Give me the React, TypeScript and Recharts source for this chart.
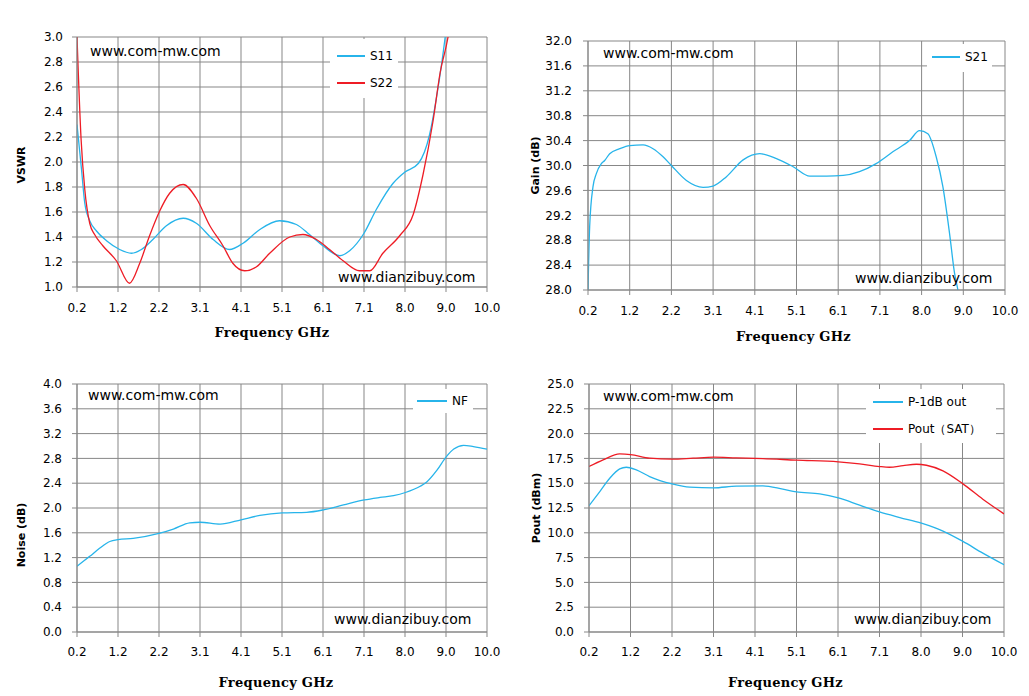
import { LineChart, Line, XAxis, YAxis, CartesianGrid } from 'recharts';

// category axis: labels are evenly spaced, data positions are given in label steps (0..10)
const freqLabels = ['0.2', '1.2', '2.2', '3.1', '4.1', '5.1', '6.1', '7.1', '8.0', '9.0', '10.0'];
const freqTicks = freqLabels.map((_, i) => i);

const vswrTicks = [1.0, 1.2, 1.4, 1.6, 1.8, 2.0, 2.2, 2.4, 2.6, 2.8, 3.0];
const gainTicks = [28.0, 28.4, 28.8, 29.2, 29.6, 30.0, 30.4, 30.8, 31.2, 31.6, 32.0];
const noiseTicks = [0.0, 0.4, 0.8, 1.2, 1.6, 2.0, 2.4, 2.8, 3.2, 3.6, 4.0];
const poutTicks = [0.0, 2.5, 5.0, 7.5, 10.0, 12.5, 15.0, 17.5, 20.0, 22.5, 25.0];

// [position, value]
const s11: [number, number][] = [
  [0, 2.3], [0.11, 1.94], [0.19, 1.67], [0.31, 1.53], [0.47, 1.45], [0.72, 1.37], [1.04, 1.3],
  [1.33, 1.27], [1.57, 1.3], [1.85, 1.38], [2.18, 1.49], [2.59, 1.55], [2.91, 1.51], [3.32, 1.38],
  [3.72, 1.3], [4.05, 1.35], [4.46, 1.46], [4.94, 1.53], [5.35, 1.5], [5.67, 1.42], [6.0, 1.33],
  [6.41, 1.25], [6.65, 1.29], [7.0, 1.43], [7.3, 1.62], [7.71, 1.83], [8.0, 1.92], [8.33, 1.99],
  [8.6, 2.22], [8.76, 2.5], [8.9, 2.8], [8.98, 3.0], [9.08, 3.3],
];
const s22: [number, number][] = [
  [0, 3.0], [0.1, 2.18], [0.19, 1.78], [0.31, 1.51], [0.43, 1.42], [0.63, 1.33], [0.96, 1.21],
  [1.28, 1.03], [1.53, 1.19], [1.77, 1.41], [2.02, 1.61], [2.26, 1.75], [2.59, 1.82], [2.91, 1.71],
  [3.24, 1.49], [3.56, 1.33], [3.8, 1.19], [4.09, 1.13], [4.37, 1.16], [4.7, 1.27], [5.19, 1.4],
  [5.51, 1.42], [5.84, 1.38], [6.16, 1.3], [6.49, 1.21], [6.89, 1.13], [7.14, 1.13], [7.46, 1.27],
  [7.87, 1.41], [8.2, 1.58], [8.44, 1.9], [8.68, 2.32], [8.86, 2.72], [9.05, 3.0], [9.2, 3.35],
];
const s21: [number, number][] = [
  [0, 28.0], [0.04, 29.02], [0.12, 29.66], [0.2, 29.87], [0.32, 30.03], [0.4, 30.08], [0.52, 30.19],
  [0.76, 30.27], [1.0, 30.32], [1.32, 30.33], [1.56, 30.27], [1.8, 30.14], [2.0, 30.0], [2.36, 29.76],
  [2.76, 29.65], [3.0, 29.67], [3.32, 29.82], [3.72, 30.09], [4.12, 30.19], [4.52, 30.11],
  [4.92, 29.98], [5.32, 29.83], [5.72, 29.83], [6.12, 29.84], [6.51, 29.9], [6.91, 30.03],
  [7.31, 30.22], [7.71, 30.4], [7.95, 30.56], [8.15, 30.51], [8.35, 30.14], [8.51, 29.66],
  [8.67, 28.91], [8.79, 28.27], [8.87, 28.0], [8.95, 27.6],
];
const nf: [number, number][] = [
  [0, 1.06], [0.31, 1.22], [0.55, 1.35], [0.8, 1.46], [1.0, 1.49], [1.37, 1.51], [2.0, 1.59],
  [2.35, 1.66], [2.75, 1.76], [3.0, 1.77], [3.49, 1.74], [4.0, 1.81], [4.46, 1.88], [5.0, 1.92],
  [5.6, 1.93], [6.01, 1.97], [6.5, 2.05], [7.01, 2.13], [7.39, 2.17], [7.72, 2.2], [8.01, 2.25],
  [8.37, 2.35], [8.53, 2.42], [8.78, 2.61], [9.0, 2.82], [9.19, 2.95], [9.43, 3.01], [9.67, 2.99],
  [10, 2.95],
];
const p1dB: [number, number][] = [
  [0, 12.72], [0.26, 14.16], [0.5, 15.5], [0.74, 16.44], [0.9, 16.61], [1.14, 16.34], [1.46, 15.67],
  [2.0, 14.93], [2.43, 14.6], [3.0, 14.53], [3.55, 14.7], [4.19, 14.73], [4.67, 14.4], [5.0, 14.13],
  [5.56, 13.93], [6.01, 13.52], [6.52, 12.79], [7.0, 12.11], [7.49, 11.54], [8.01, 10.97],
  [8.53, 10.17], [9.01, 9.13], [9.49, 7.95], [10, 6.78],
];
const psat: [number, number][] = [
  [0, 16.68], [0.34, 17.35], [0.74, 17.95], [1.0, 17.89], [1.46, 17.52], [2.0, 17.42], [2.51, 17.52],
  [3.0, 17.62], [3.55, 17.55], [4.19, 17.48], [5.0, 17.32], [6.01, 17.15], [6.52, 16.95], [7.0, 16.68],
  [7.24, 16.61], [7.57, 16.78], [7.89, 16.91], [8.13, 16.81], [8.53, 16.24], [9.01, 14.93],
  [9.49, 13.39], [10, 11.91],
];

const BLUE = '#27b4ea';
const RED = '#ee1c25';
const GRID = '#878787';

const toPoints = (arr: [number, number][]) => arr.map(([x, v]) => ({ x, v }));

const panels = [
  {
    left: 0, top: 0, width: 514, height: 348,
    margin: { top: 37, right: 27, bottom: 31, left: 0 }, yWidth: 77,
    ticks: vswrTicks, digits: 1, yTitle: 'VSWR', yTitleX: 21, yTitleDy: 3,
    xTitleOffset: 11, xTitleDx: -10, yTickMargin: 9, xTickMargin: 11,
    series: [{ name: 'S11', data: s11, color: BLUE }, { name: 'S22', data: s22, color: RED }],
    legend: { left: 330, top: 39, width: 68, height: 59, rows: [56, 83], lineX: 7, lineW: 28 },
    marks: [{ text: 'www.com-mw.com', x: 90, y: 56 }, { text: 'www.dianzibuy.com', x: 338, y: 282 }],
  },
  {
    left: 514, top: 0, width: 515, height: 348,
    margin: { top: 41, right: 24, bottom: 28, left: 0 }, yWidth: 74,
    ticks: gainTicks, digits: 1, yTitle: 'Gain (dB)', yTitleX: 21, yTitleDy: 0,
    xTitleOffset: 12, xTitleDx: -3, yTickMargin: 11, xTickMargin: 11,
    series: [{ name: 'S21', data: s21, color: BLUE }],
    legend: { left: 927, top: 44, width: 65, height: 28, rows: [57], lineX: 5, lineW: 28 },
    marks: [{ text: 'www.com-mw.com', x: 603, y: 58 }, { text: 'www.dianzibuy.com', x: 855, y: 283 }],
  },
  {
    left: 0, top: 348, width: 514, height: 348,
    margin: { top: 36, right: 27, bottom: 34, left: 0 }, yWidth: 77,
    ticks: noiseTicks, digits: 1, yTitle: 'Noise (dB)', yTitleX: 21, yTitleDy: 27,
    xTitleOffset: 16, xTitleDx: -6, yTickMargin: 10, xTickMargin: 10,
    series: [{ name: 'NF', data: nf, color: BLUE }],
    legend: { left: 413, top: 389, width: 60, height: 24, rows: [401], lineX: 4, lineW: 30 },
    marks: [{ text: 'www.com-mw.com', x: 88, y: 400 }, { text: 'www.dianzibuy.com', x: 334, y: 624 }],
  },
  {
    left: 514, top: 348, width: 515, height: 348,
    margin: { top: 36, right: 25, bottom: 34, left: 0 }, yWidth: 75,
    ticks: poutTicks, digits: 1, yTitle: 'Pout (dBm)', yTitleX: 22, yTitleDy: 0,
    xTitleOffset: 16, xTitleDx: -11, yTickMargin: 10, xTickMargin: 10,
    series: [{ name: 'P-1dB out', data: p1dB, color: BLUE }, { name: 'Pout（SAT）', data: psat, color: RED }],
    legend: { left: 866, top: 389, width: 130, height: 54, rows: [402, 429], lineX: 7, lineW: 30 },
    marks: [{ text: 'www.com-mw.com', x: 603, y: 401 }, { text: 'www.dianzibuy.com', x: 854, y: 624 }],
  },
];

const tickStyle = { fill: '#000', fontSize: 12, fontFamily: 'DejaVu Sans' };
const xTitleFont = "'DejaVu Serif', serif";

function Panel({ p }: { p: (typeof panels)[number] }) {
  const ticks = p.ticks;
  return (
    <div style={{ position: 'absolute', left: p.left, top: p.top }}>
      <LineChart width={p.width} height={p.height} margin={p.margin}>
        <CartesianGrid stroke={GRID} strokeWidth={1} />
        <XAxis
          type="number"
          dataKey="x"
          domain={[0, 10]}
          ticks={freqTicks}
          tickFormatter={(v: number) => freqLabels[v]}
          allowDataOverflow
          height={30}
          stroke={GRID}
          tickSize={5}
          tickMargin={p.xTickMargin}
          tick={tickStyle}
          interval={0}
          label={{
            value: 'Frequency GHz',
            position: 'bottom',
            offset: p.xTitleOffset,
            dx: p.xTitleDx,
            style: { fontFamily: xTitleFont, fontWeight: 700, fontSize: 13, letterSpacing: 0.3, fill: '#000' },
          }}
        />
        <YAxis
          type="number"
          domain={[ticks[0], ticks[ticks.length - 1]]}
          ticks={ticks}
          tickFormatter={(v: number) => v.toFixed(p.digits)}
          allowDataOverflow
          width={p.yWidth}
          stroke={GRID}
          tickSize={5}
          tickMargin={p.yTickMargin}
          tick={tickStyle}
          interval={0}
          label={{
            value: p.yTitle,
            angle: -90,
            position: 'insideLeft',
            offset: p.yTitleX,
            dy: p.yTitleDy,
            style: { textAnchor: 'middle', fontFamily: 'DejaVu Sans', fontWeight: 700, fontSize: 11, fill: '#000' },
          }}
        />
        {p.series.map((s) => (
          <Line
            key={s.name}
            name={s.name}
            data={toPoints(s.data)}
            dataKey="v"
            type="monotone"
            stroke={s.color}
            strokeWidth={1.3}
            dot={false}
            activeDot={false}
            isAnimationActive={false}
          />
        ))}
      </LineChart>
    </div>
  );
}

function LegendBox({ p }: { p: (typeof panels)[number] }) {
  const lg = p.legend;
  return (
    <div
      style={{
        position: 'absolute', left: lg.left, top: lg.top, width: lg.width, height: lg.height,
        background: '#fff',
      }}
    >
      {p.series.map((s, i) => (
        <div
          key={s.name}
          style={{
            position: 'absolute', left: lg.lineX, top: lg.rows[i] - lg.top - 8, height: 16,
            display: 'flex', alignItems: 'center', whiteSpace: 'nowrap',
            fontFamily: 'DejaVu Sans', fontSize: 12, color: '#000',
          }}
        >
          <div style={{ width: lg.lineW, height: 1.3, background: s.color, marginRight: 5 }} />
          <span>{s.name}</span>
        </div>
      ))}
    </div>
  );
}

export default function App() {
  return (
    <div style={{ position: 'absolute', left: 0, top: 0, width: 1029, height: 696, background: '#fff' }}>
      {panels.map((p, i) => (
        <Panel key={i} p={p} />
      ))}
      {panels.map((p, i) => (
        <LegendBox key={'lg' + i} p={p} />
      ))}
      {panels.flatMap((p) => p.marks).map((m, i) => (
        <div
          key={'wm' + i}
          style={{
            position: 'absolute', left: m.x, top: m.y - 12, fontFamily: 'DejaVu Sans', fontSize: 14,
            lineHeight: '14px', color: '#000', whiteSpace: 'nowrap',
          }}
        >
          {m.text}
        </div>
      ))}
    </div>
  );
}
